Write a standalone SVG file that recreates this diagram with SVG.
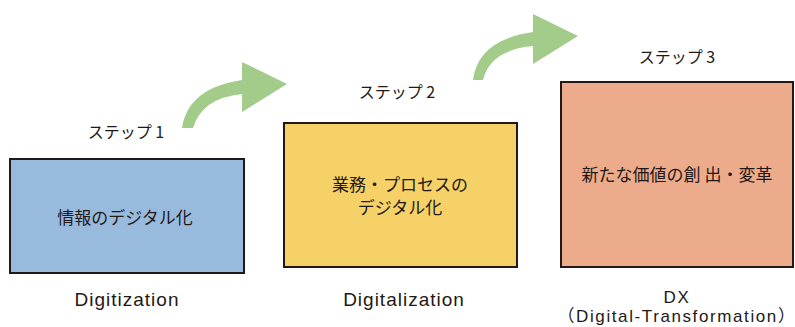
<svg xmlns="http://www.w3.org/2000/svg" width="795" height="327" viewBox="0 0 795 327">
<style>
text{font-family:"Noto Sans CJK JP","Noto Sans",sans-serif;fill:#231815;text-anchor:middle}
.step{font-size:16px}
.in{font-size:17px}
.lab{font-family:"Liberation Sans","Noto Sans CJK JP",sans-serif;font-size:19px;letter-spacing:1px}
.dx{font-family:"Liberation Sans","Noto Sans CJK JP",sans-serif;font-size:17px;letter-spacing:1.6px}
.box{stroke:#231815;stroke-width:2}
.arr{fill:#A3CB8A}
</style>
<rect width="795" height="327" fill="#ffffff"/>
<g id="connectors">
<path class="arr" d="M182,128 Q188,88 242,80 L242,62 L287,84 L242,112 L242,94 Q202,98 193,128 Z"/>
<path class="arr" d="M473,80 Q478,40 533,32 L533,14 L578,36 L533,64 L533,46 Q490,50 483,80 Z"/>
</g>
<g id="step1">
<text class="step" x="126" y="138">ステップ 1</text>
<rect class="box" x="10" y="159" width="234" height="114" fill="#98BBDD"/>
<text class="in" x="125" y="224">情報のデジタル化</text>
<text class="lab" x="127" y="306">Digitization</text>
</g>
<g id="step2">
<text class="step" x="397" y="98">ステップ 2</text>
<rect class="box" x="284" y="123" width="233" height="144" fill="#F5D168"/>
<text class="in" x="400" y="191">業務・プロセスの</text>
<text class="in" x="400" y="214">デジタル化</text>
<text class="lab" x="404" y="306">Digitalization</text>
</g>
<g id="step3">
<text class="step" x="677" y="63">ステップ 3</text>
<rect class="box" x="561" y="82" width="232" height="185" fill="#ECAB8B"/>
<text class="in" x="677" y="181">新たな価値の創 出・変革</text>
<text class="dx"><tspan x="677" y="303">DX</tspan><tspan x="677" y="322">（Digital-Transformation）</tspan></text>
</g>
</svg>
